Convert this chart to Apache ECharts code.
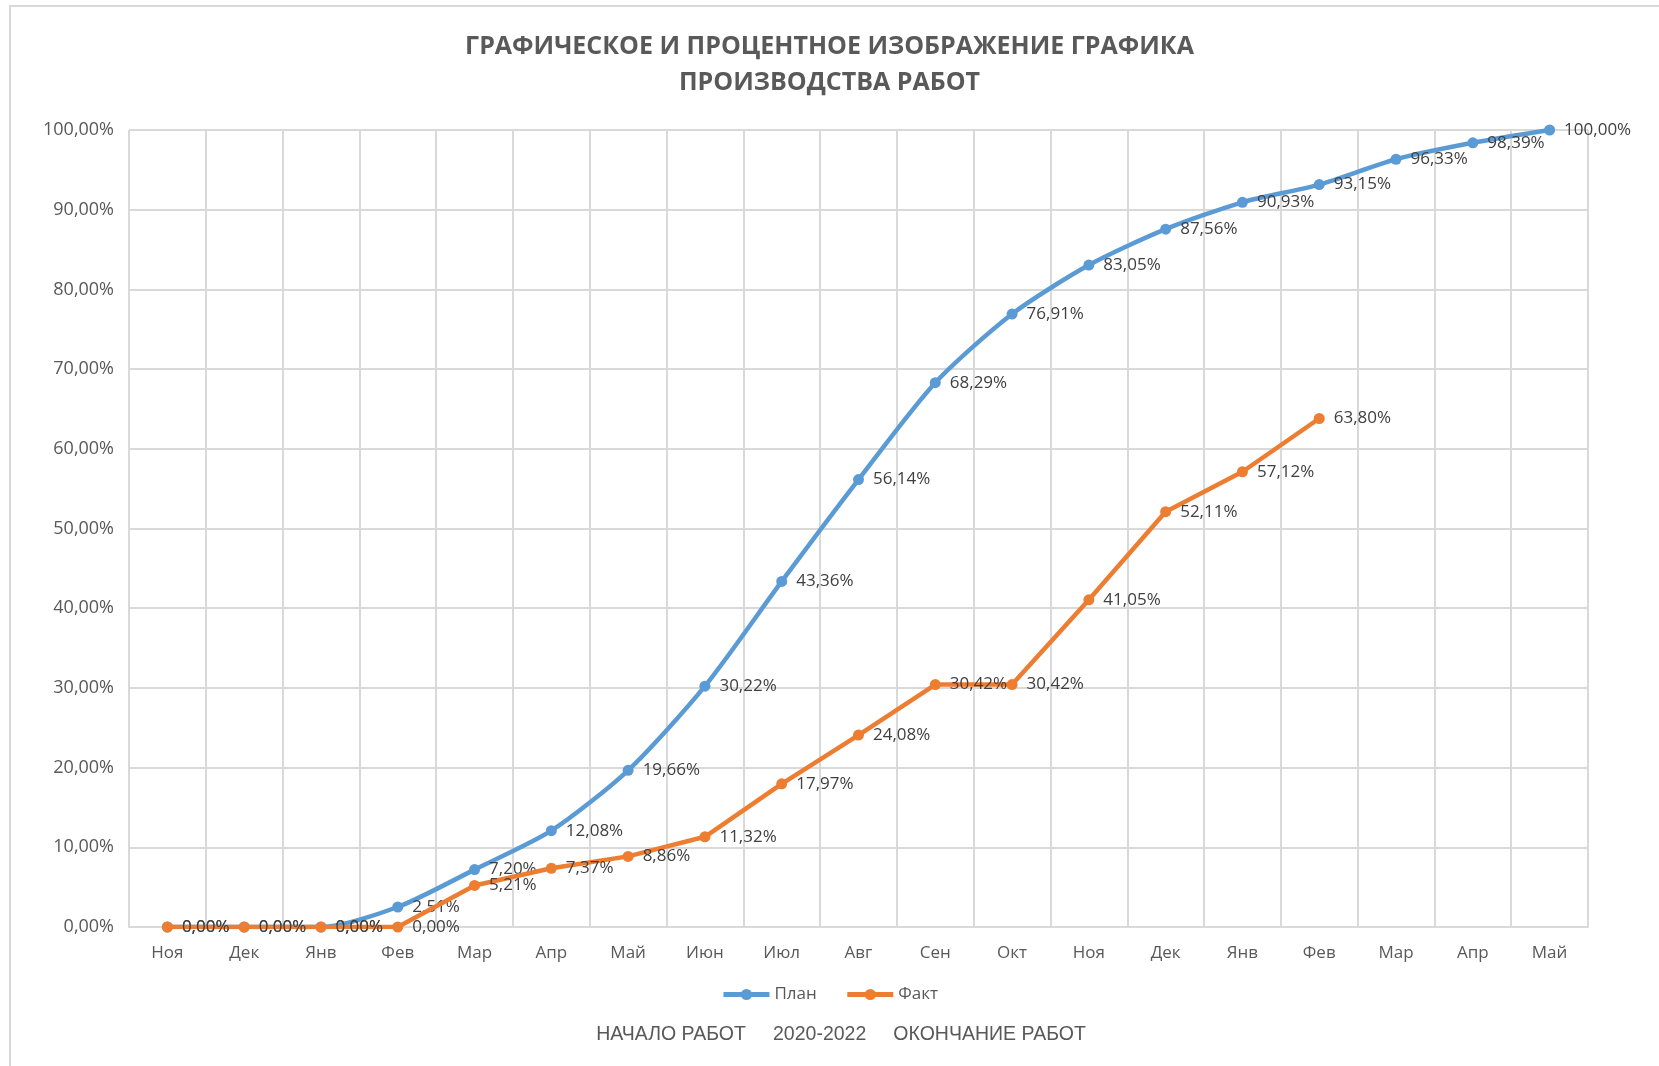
<!DOCTYPE html>
<html>
<head>
<meta charset="utf-8">
<script src="https://cdn.jsdelivr.net/npm/echarts@6/dist/echarts.min.js"></script>
<style>
  html, body { margin: 0; padding: 0; background: #fff; }
  #chart { width: 1659px; height: 1066px; }
</style>
</head>
<body>
<div id="chart"></div>
<script>
// месяцы 2020-2022
const months = ["Ноя", "Дек", "Янв", "Фев", "Мар", "Апр", "Май", "Июн", "Июл", "Авг",
  "Сен", "Окт", "Ноя", "Дек", "Янв", "Фев", "Мар", "Апр", "Май"];
// план, %
const planValues = [0, 0, 0, 2.51, 7.20, 12.08, 19.66, 30.22, 43.36, 56.14,
  68.29, 76.91, 83.05, 87.56, 90.93, 93.15, 96.33, 98.39, 100.00];
// факт, %
const factValues = [0, 0, 0, 0, 5.21, 7.37, 8.86, 11.32, 17.97, 24.08,
  30.42, 30.42, 41.05, 52.11, 57.12, 63.80, null, null, null];

const fmt = (v) => v.toFixed(2).replace(".", ",") + "%";
const textColor = "#595959";

const chart = echarts.init(document.getElementById("chart"));

const labelStyle = {
  show: true,
  position: "right",
  distance: 9,
  fontFamily: "Open Sans",
  fontSize: 17,
  color: "#404040",
  formatter: (p) => fmt(p.value),
};

const option = {
  animation: false,
  backgroundColor: "#fff",
  graphic: [
    {
      type: "rect",
      shape: { x: 10, y: 6, width: 1700, height: 1100 },
      style: { fill: "none", stroke: "#d9d9d9", lineWidth: 2 },
      silent: true,
    },
    {
      type: "text",
      x: 841,
      y: 1025,
      style: {
        text: "НАЧАЛО РАБОТ     2020-2022     ОКОНЧАНИЕ РАБОТ",
        fontFamily: "Liberation Sans",
        fontSize: 19.5,
        fill: textColor,
        align: "center",
      },
    },
  ],
  title: {
    text: "ГРАФИЧЕСКОЕ И ПРОЦЕНТНОЕ ИЗОБРАЖЕНИЕ ГРАФИКА\nПРОИЗВОДСТВА РАБОТ",
    left: "center",
    top: 24,
    textStyle: {
      fontFamily: "Open Sans",
      fontWeight: "bold",
      fontSize: 25,
      lineHeight: 36,
      color: textColor,
    },
  },
  legend: {
    bottom: 58,
    left: "center",
    itemWidth: 46,
    itemHeight: 14,
    itemGap: 28,
    lineStyle: { width: 5 },
    textStyle: { fontFamily: "Open Sans", fontSize: 17, color: textColor },
    data: ["План", "Факт"],
  },
  grid: { left: 129, right: 71, top: 130, bottom: 139 },
  xAxis: {
    type: "category",
    data: months,
    boundaryGap: true,
    axisLine: { lineStyle: { color: "#d9d9d9", width: 2 } },
    axisTick: { show: false },
    axisLabel: { fontFamily: "Open Sans", fontSize: 17, color: textColor, margin: 18 },
    splitLine: { show: true, lineStyle: { color: "#d9d9d9", width: 2 } },
  },
  yAxis: {
    type: "value",
    min: 0,
    max: 100,
    interval: 10,
    axisLine: { show: false },
    axisTick: { show: false },
    axisLabel: {
      fontFamily: "Open Sans",
      fontSize: 18,
      color: textColor,
      margin: 15,
      formatter: (v) => fmt(v),
    },
    splitLine: { lineStyle: { color: "#d9d9d9", width: 2 } },
  },
  series: [
    {
      name: "План",
      type: "line",
      data: planValues,
      smooth: 0.25,
      symbol: "circle",
      symbolSize: 11,
      color: "#5b9bd5",
      lineStyle: { width: 4.5, color: "#5b9bd5" },
      label: labelStyle,
      z: 2,
    },
    {
      name: "Факт",
      type: "line",
      data: factValues,
      symbol: "circle",
      symbolSize: 11,
      color: "#ed7d31",
      lineStyle: { width: 4.5, color: "#ed7d31" },
      label: labelStyle,
      z: 3,
    },
  ],
};

chart.setOption(option);
</script>
</body>
</html>
